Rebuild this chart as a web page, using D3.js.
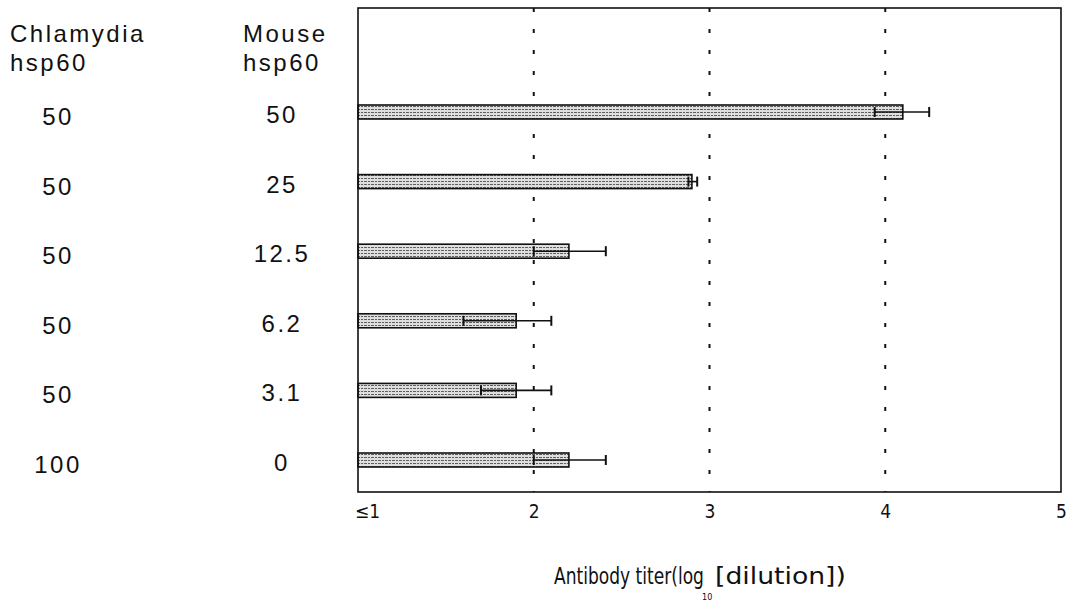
<!DOCTYPE html>
<html>
<head>
<meta charset="utf-8">
<script src="https://cdn.jsdelivr.net/npm/d3@7"></script>
<style>
  html, body { margin: 0; padding: 0; background: #fff; }
  #chart { width: 1066px; height: 604px; }
  text { fill: #111; }
</style>
</head>
<body>
<div id="chart"></div>
<script>
(function () {
  // doses of each antigen, one row per bar (top to bottom)
  const chlamydiaDose = ["50", "50", "50", "50", "50", "100"];
  const mouseDose = ["50", "25", "12.5", "6.2", "3.1", "0"];

  // mean titer and error bar ends, log10(dilution)
  const titer = [4.1, 2.9, 2.2, 1.9, 1.9, 2.2];
  const errLow = [3.94, 2.88, 2.0, 1.6, 1.7, 2.0];
  const errHigh = [4.25, 2.93, 2.41, 2.1, 2.1, 2.41];

  const xTicks = [1, 2, 3, 4, 5];
  const xTickLabels = ["≤1", "2", "3", "4", "5"];
  const gridValues = [2, 3, 4];

  const rows = titer.map(function (v, i) {
    return { i: i, chl: chlamydiaDose[i], mouse: mouseDose[i], value: v, lo: errLow[i], hi: errHigh[i] };
  });

  const width = 1066;
  const height = 604;
  const plot = { left: 358, right: 1061, top: 8, bottom: 492 };
  const barHeight = 14;
  const labelFont = "'Liberation Sans', Arial, sans-serif";
  const narrowFont = "'Liberation Sans Narrow', 'DejaVu Sans Condensed', 'Liberation Sans', sans-serif";

  const x = d3.scaleLinear([1, 5], [plot.left, plot.right]);
  const y = d3.scalePoint(d3.range(rows.length), [112, 460]);

  const svg = d3.create("svg")
    .attr("width", width)
    .attr("height", height)
    .attr("viewBox", [0, 0, width, height]);

  d3.select("#chart").node().appendChild(svg.node());

  svg.append("rect")
    .attr("width", width)
    .attr("height", height)
    .attr("fill", "#fff");

  // stippled grey fill like the scanned bars
  const pattern = svg.append("defs").append("pattern")
    .attr("id", "stipple")
    .attr("patternUnits", "userSpaceOnUse")
    .attr("width", 7)
    .attr("height", 3);
  pattern.append("rect")
    .attr("width", 7)
    .attr("height", 3)
    .attr("fill", "#dedede");
  pattern.append("line")
    .attr("x1", 0).attr("x2", 6)
    .attr("y1", 1.5).attr("y2", 1.5)
    .attr("stroke", "#5e5e5e")
    .attr("stroke-width", 1)
    .attr("stroke-dasharray", "3,1");

  // dotted grid lines
  svg.append("g")
    .selectAll("line")
    .data(gridValues)
    .join("line")
      .attr("x1", d => x(d))
      .attr("x2", d => x(d))
      .attr("y1", plot.top)
      .attr("y2", plot.bottom)
      .attr("stroke", "#111")
      .attr("stroke-width", 2)
      .attr("stroke-dasharray", "4,17");

  // bars
  svg.append("g")
    .selectAll("rect")
    .data(rows)
    .join("rect")
      .attr("x", x(1))
      .attr("y", d => y(d.i) - barHeight / 2)
      .attr("width", d => x(d.value) - x(1))
      .attr("height", barHeight)
      .attr("fill", "url(#stipple)")
      .attr("stroke", "#111")
      .attr("stroke-width", 1.6);

  // error bars
  const err = svg.append("g")
    .attr("stroke", "#111")
    .attr("fill", "none")
    .selectAll("g")
    .data(rows)
    .join("g");

  err.append("line")
    .attr("x1", d => x(d.lo))
    .attr("x2", d => x(d.hi))
    .attr("y1", d => y(d.i))
    .attr("y2", d => y(d.i))
    .attr("stroke-width", 1.6);

  err.selectAll("line.cap")
    .data(d => [{ v: d.lo, i: d.i }, { v: d.hi, i: d.i }])
    .join("line")
      .attr("class", "cap")
      .attr("x1", d => x(d.v))
      .attr("x2", d => x(d.v))
      .attr("y1", d => y(d.i) - 5)
      .attr("y2", d => y(d.i) + 5)
      .attr("stroke-width", 2);

  // frame
  svg.append("rect")
    .attr("x", plot.left)
    .attr("y", plot.top)
    .attr("width", plot.right - plot.left)
    .attr("height", plot.bottom - plot.top)
    .attr("fill", "none")
    .attr("stroke", "#111")
    .attr("stroke-width", 1.6);

  // x axis labels (no tick marks in the original)
  const xAxis = d3.axisBottom(x)
    .tickValues(xTicks)
    .tickSize(0)
    .tickPadding(0)
    .tickFormat(function (d, i) { return xTickLabels[i]; });

  const axisG = svg.append("g")
    .attr("transform", `translate(0, ${plot.bottom + 12})`)
    .call(xAxis);
  axisG.select(".domain").remove();
  axisG.selectAll("text")
    .attr("font-family", narrowFont)
    .attr("font-size", 19)
    .attr("fill", "#111")
    .attr("dx", (d, i) => i === 0 ? 9 : 0);

  // axis title with subscript 10 under the gap after "log"
  // each part squeezed / widened horizontally to match the scan
  const title = svg.append("g")
    .attr("font-family", narrowFont)
    .attr("font-size", 23);

  function fitText(str, left, baseline, targetWidth) {
    const t = title.append("text").text(str);
    const w = t.node().getComputedTextLength();
    t.attr("transform", `translate(${left}, ${baseline}) scale(${targetWidth / w}, 1)`);
    return t;
  }

  fitText("Antibody titer(log", 554, 584, 150);
  title.append("text")
    .attr("x", 702)
    .attr("y", 600)
    .attr("font-size", 9)
    .text("10");
  fitText("[dilution])", 715, 584, 131);

  // left-hand table of doses
  const table = svg.append("g")
    .attr("font-family", labelFont)
    .attr("font-size", 24)
    .attr("letter-spacing", 2.5);

  table.append("text").attr("x", 10).attr("y", 42).text("Chlamydia");
  table.append("text").attr("x", 10).attr("y", 71).text("hsp60");
  table.append("text").attr("x", 243).attr("y", 42).text("Mouse");
  table.append("text").attr("x", 243).attr("y", 71).text("hsp60");

  table.selectAll("text.chl")
    .data(rows)
    .join("text")
      .attr("class", "chl")
      .attr("x", 58)
      .attr("y", d => y(d.i) + 13)
      .attr("text-anchor", "middle")
      .text(d => d.chl);

  table.selectAll("text.mouse")
    .data(rows)
    .join("text")
      .attr("class", "mouse")
      .attr("x", 282)
      .attr("y", d => y(d.i) + 11)
      .attr("text-anchor", "middle")
      .text(d => d.mouse);
})();
</script>
</body>
</html>
